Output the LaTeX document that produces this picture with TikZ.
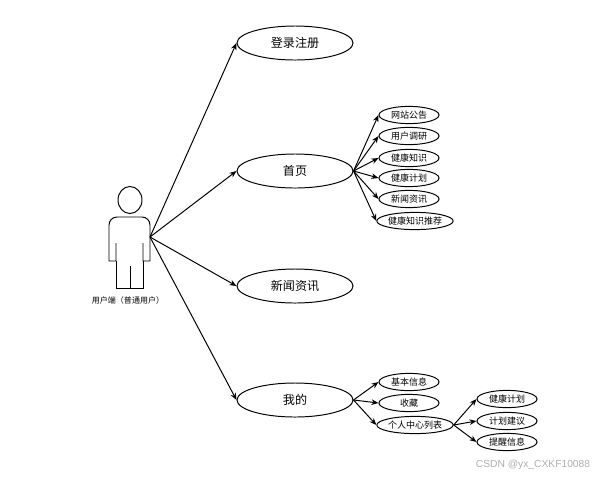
\documentclass[tikz,border=0pt]{standalone}
\usepackage{fontspec}
\usepackage{xcolor}
\usepackage{tikz}
\usetikzlibrary{arrows.meta, shapes.geometric}
\setmainfont{Noto Sans CJK SC}
\setsansfont{Liberation Sans}
\definecolor{markgray}{RGB}{175,175,175}

\begin{document}
\begin{tikzpicture}[x=0.025cm, y=-0.025cm, >={Stealth[length=5pt,width=4pt]}, line width=0.7pt,
    bigcase/.style={draw, ellipse, inner sep=0pt, minimum width=2.9cm, minimum height=0.85cm,
                    font=\fontsize{8.6}{10}\selectfont},
    smallcase/.style={draw, ellipse, inner sep=0pt, minimum width=1.5cm, minimum height=0.43cm,
                      font=\fontsize{6.4}{8}\selectfont},
    widecase/.style={smallcase, minimum width=1.8cm}]
    \useasboundingbox (0,0) rectangle (600,476);
    % actor
    \draw (130,200) ellipse (12 and 13.5);
    \draw (116,243) -- (116,261) -- (109,261) -- (109,225)
          arc (180:270:8) -- (142,217) arc (270:360:8) -- (150,261) -- (143,261) -- (143,243);
    \draw (116,261) -- (116,288) -- (143,288) -- (143,261);
    \draw (130,266) -- (130,288);
    \node[font=\fontsize{5.7}{7}\selectfont] (usercap) at (128,300) {用户端（普通用户）};
    \coordinate (user) at (150,237);
    % main cases
    \node[bigcase] (login) at (295,43) {登录注册};
    \node[bigcase] (home) at (295,171) {首页};
    \node[bigcase] (news) at (295,286) {新闻资讯};
    \node[bigcase] (mine) at (295,400) {我的};
    \foreach \tgt in {login, home, news, mine}
        \draw[->] (user) -- (\tgt.west);
    % home
    \node[smallcase] (notice) at (409,115) {网站公告};
    \node[smallcase] (survey) at (409,136) {用户调研};
    \node[smallcase] (know) at (409,158) {健康知识};
    \node[smallcase] (plan) at (409,178) {健康计划};
    \node[smallcase] (info) at (409,199) {新闻资讯};
    \node[widecase] (recom) at (415,221) {健康知识推荐};
    \foreach \tgt in {notice, survey, know, plan, info, recom}
        \draw[->] (home.east) -- (\tgt.west);
    % mine
    \node[smallcase] (basic) at (409,382) {基本信息};
    \node[smallcase] (fav) at (409,403) {收藏};
    \node[widecase] (center) at (415,425) {个人中心列表};
    \foreach \tgt in {basic, fav, center}
        \draw[->] (mine.east) -- (\tgt.west);
    % personal center
    \node[smallcase] (myplan) at (507,399) {健康计划};
    \node[smallcase] (advice) at (507,421) {计划建议};
    \node[smallcase] (remind) at (507,442) {提醒信息};
    \foreach \tgt in {myplan, advice, remind}
        \draw[->] (center.east) -- (\tgt.west);
    \node[font=\sffamily\fontsize{7.3}{8}\selectfont, text=markgray] (mark) at (533,465) {CSDN @yx\_CXKF10088};
\end{tikzpicture}
\end{document}
